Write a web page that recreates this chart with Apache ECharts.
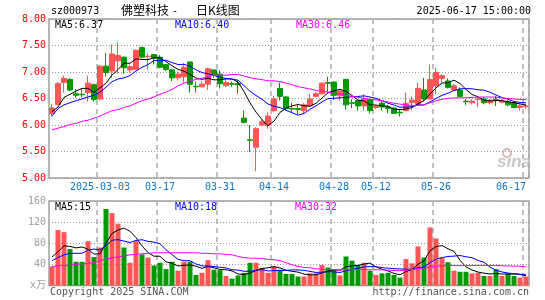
<!DOCTYPE html>
<html><head><meta charset="utf-8">
<script src="https://cdn.jsdelivr.net/npm/echarts/dist/echarts.min.js"></script>
<style>html,body{margin:0;padding:0;background:#fff}#c{width:545px;height:300px}</style>
</head><body><div id="c"></div>
<script>
const dates = [
'2025-02-19','2025-02-20','2025-02-21','2025-02-24','2025-02-25','2025-02-26','2025-02-27','2025-02-28',
'2025-03-03','2025-03-04','2025-03-05','2025-03-06','2025-03-07','2025-03-10','2025-03-11','2025-03-12','2025-03-13','2025-03-14',
'2025-03-17','2025-03-18','2025-03-19','2025-03-20','2025-03-21','2025-03-24','2025-03-25','2025-03-26','2025-03-27','2025-03-28',
'2025-03-31','2025-04-01','2025-04-02','2025-04-03','2025-04-07','2025-04-08','2025-04-09','2025-04-10','2025-04-11',
'2025-04-14','2025-04-15','2025-04-16','2025-04-17','2025-04-18','2025-04-21','2025-04-22','2025-04-23','2025-04-24','2025-04-25',
'2025-04-28','2025-04-29','2025-04-30','2025-05-06','2025-05-07','2025-05-08','2025-05-09',
'2025-05-12','2025-05-13','2025-05-14','2025-05-15','2025-05-16','2025-05-19','2025-05-20','2025-05-21','2025-05-22','2025-05-23',
'2025-05-26','2025-05-27','2025-05-28','2025-05-29','2025-05-30','2025-06-03','2025-06-04','2025-06-05','2025-06-06',
'2025-06-09','2025-06-10','2025-06-11','2025-06-12','2025-06-13','2025-06-16','2025-06-17'];

const opens  = [6.22,6.39,6.80,6.86,6.59,6.58,6.61,6.76,6.49,7.11,7.02,7.21,7.28,7.04,7.05,7.46,7.29,7.33,7.28,7.14,
                7.04,6.89,6.91,7.19,6.73,6.72,6.77,7.04,6.96,6.74,6.78,6.78,6.13,5.72,5.58,6.00,6.00,6.27,6.69,6.53,
                6.31,6.31,6.27,6.36,6.54,6.59,6.80,6.81,6.55,6.86,6.42,6.46,6.36,6.48,6.33,6.41,6.34,6.32,6.24,6.27,
                6.42,6.39,6.66,6.49,6.74,6.88,6.83,6.66,6.66,6.45,6.42,6.48,6.49,6.42,6.48,6.43,6.44,6.42,6.33,6.35];
const closes = [6.32,6.78,6.88,6.66,6.56,6.57,6.79,6.48,7.11,6.99,7.34,7.31,7.08,7.10,7.41,7.28,7.30,7.26,7.09,7.05,
                6.89,6.96,7.09,6.77,6.72,6.77,7.06,6.94,6.78,6.80,6.77,6.76,6.05,5.71,5.93,6.06,6.17,6.49,6.54,6.31,
                6.30,6.29,6.38,6.49,6.59,6.79,6.79,6.56,6.64,6.38,6.41,6.36,6.49,6.27,6.35,6.34,6.31,6.22,6.23,6.41,
                6.47,6.69,6.49,6.86,6.99,6.93,6.71,6.74,6.54,6.44,6.45,6.49,6.42,6.47,6.47,6.45,6.38,6.33,6.36,6.36];
const lows   = [6.16,6.37,6.61,6.64,6.52,6.52,6.44,6.44,6.46,6.91,6.89,6.97,6.97,6.99,7.04,7.26,7.05,7.14,7.07,7.02,
                6.83,6.84,6.80,6.61,6.61,6.71,6.66,6.89,6.69,6.72,6.72,6.59,6.03,5.49,5.13,5.99,5.93,6.24,6.46,6.27,
                6.24,6.21,6.22,6.34,6.52,6.58,6.61,6.47,6.46,6.29,6.32,6.27,6.27,6.22,6.30,6.27,6.22,6.21,6.16,6.26,
                6.28,6.38,6.46,6.48,6.58,6.80,6.69,6.64,6.52,6.38,6.39,6.34,6.39,6.39,6.36,6.41,6.36,6.32,6.27,6.30];
const highs  = [6.40,6.81,6.93,6.88,6.68,6.70,6.93,6.78,7.13,7.36,7.52,7.56,7.29,7.14,7.42,7.48,7.36,7.34,7.32,7.15,
                7.05,7.01,7.17,7.19,6.82,6.83,7.08,7.04,7.03,6.89,6.82,6.84,6.27,6.00,5.96,6.11,6.24,6.55,6.80,6.55,
                6.42,6.38,6.41,6.58,6.62,6.80,6.91,6.82,6.67,6.87,6.49,6.47,6.58,6.49,6.38,6.46,6.38,6.34,6.30,6.61,
                6.54,6.80,6.89,7.14,7.08,6.96,6.88,6.77,6.71,6.49,6.49,6.52,6.53,6.49,6.55,6.49,6.47,6.44,6.39,6.40];
const volumes = [36,105,101,69,45,45,84,54,72,145,137,117,72,43,84,59,53,38,43,31,
                 45,28,45,45,20,24,48,30,29,18,13,19,24,43,43,33,24,36,30,22,
                 22,17,17,23,23,39,34,30,19,55,47,39,43,28,20,23,24,20,15,50,
                 42,74,53,110,89,52,44,28,26,26,23,24,18,18,31,18,23,18,15,17];

const ma5Head  = [6.25,6.34,6.52,6.58];
const ma10Head = [6.17,6.31,6.38,6.42,6.46,6.49,6.53,6.56,6.62];
const ma30Head = [5.91,5.94,5.97,6.01,6.03,6.07,6.09,6.13,6.17,6.22,6.27,6.29,6.33,6.36,6.41,6.46,6.49,6.53,6.58,6.62,
                  6.67,6.74,6.79,6.83,6.86,6.88,6.91,6.94,6.94];
const vma5Head  = [54,64,75,74];
const vma10Head = [47,53,58,61,61,61,67,69,67];
const vma30Head = [36,37,38,38,40,41,42,43,47,50,52,54,56,58,59,60,61,62,62,62,62,62,62,62,62,61,61,60,60];

const tickDates  = ['2025-03-03','2025-03-17','2025-03-31','2025-04-14','2025-04-28','2025-05-12','2025-05-26','2025-06-17'];
const tickLabels = ['2025-03-03','03-17','03-31','04-14','04-28','05-12','05-26','06-17'];
const priceTicks = [5.00,5.50,6.00,6.50,7.00,7.50,8.00];
const volTicks   = [0,40,80,120,160];

const RED = '#ff5555', GREEN = '#009900', MONO = 'DejaVu Sans Mono, Noto Sans CJK SC';

function ma(arr, n, head) {
  return arr.map((_, i) => {
    if (i < head.length) return head[i];
    let s = 0; for (let j = i - n + 1; j <= i; j++) s += arr[j];
    return +(s / n).toFixed(3);
  });
}
const tickIdx = tickDates.map(d => dates.indexOf(d));
const isTick = (idx) => tickIdx.indexOf(idx) >= 0;

const chart = echarts.init(document.getElementById('c'), null, {renderer: 'canvas'});
const gridCommon = {left: 49, width: 480, show: true, borderColor: '#a0a0a0', borderWidth: 1.5, containLabel: false, outerBoundsMode: 'none'};
const vSplit = {show: true, interval: isTick, lineStyle: {color: '#aaa', width: 1.5, type: [5, 4]}};
const hSplit = {show: true, lineStyle: {color: '#999', width: 1, type: [1, 2]}};

const option = {
  animation: false,
  backgroundColor: '#fff',
  grid: [Object.assign({top: 19, height: 159}, gridCommon), Object.assign({top: 201, height: 84.5}, gridCommon)],
  xAxis: [
    {type: 'category', gridIndex: 0, data: dates, boundaryGap: true,
     axisLine: {show: false}, axisTick: {show: false}, splitLine: vSplit,
     axisLabel: {interval: isTick, margin: 4, color: '#0a78d2', fontFamily: MONO, fontSize: 10,
                 alignMaxLabel: 'right',
                 formatter: (v) => tickLabels[tickDates.indexOf(v)] || ''}},
    {type: 'category', gridIndex: 1, data: dates, boundaryGap: true,
     axisLine: {show: false}, axisTick: {show: false}, splitLine: vSplit, axisLabel: {show: false}}
  ],
  yAxis: [
    {type: 'value', gridIndex: 0, min: priceTicks[0], max: priceTicks[priceTicks.length - 1], interval: 0.5,
     axisLine: {show: false}, axisTick: {show: false}, splitLine: hSplit,
     axisLabel: {margin: 3, color: '#ff0000', fontFamily: MONO, fontSize: 10, formatter: (v) => v.toFixed(2)}},
    {type: 'value', gridIndex: 1, min: volTicks[0], max: volTicks[volTicks.length - 1], interval: 40,
     axisLine: {show: false}, axisTick: {show: false}, splitLine: hSplit,
     axisLabel: {margin: 3, color: '#a0a0a0', fontFamily: MONO, fontSize: 10,
                 formatter: (v) => v === 0 ? 'x万' : String(v)}}
  ],
  series: [
    {type: 'candlestick', xAxisIndex: 0, yAxisIndex: 0, barWidth: 5,
     data: dates.map((_, i) => [opens[i], closes[i], lows[i], highs[i]]),
     itemStyle: {color: RED, color0: GREEN, borderColor: RED, borderColor0: GREEN, borderWidth: 1}},
    {type: 'line', xAxisIndex: 0, yAxisIndex: 0, data: ma(closes, 5, ma5Head), symbol: 'none', z: 5,
     lineStyle: {color: '#000', width: 1}},
    {type: 'line', xAxisIndex: 0, yAxisIndex: 0, data: ma(closes, 10, ma10Head), symbol: 'none', z: 5,
     lineStyle: {color: '#0000ff', width: 1}},
    {type: 'line', xAxisIndex: 0, yAxisIndex: 0, data: ma(closes, 30, ma30Head), symbol: 'none', z: 5,
     lineStyle: {color: '#ff00ff', width: 1}},
    {type: 'bar', xAxisIndex: 1, yAxisIndex: 1, barWidth: 5,
     data: volumes.map((v, i) => ({value: v, itemStyle: {color: closes[i] >= opens[i] ? RED : GREEN}}))},
    {type: 'line', xAxisIndex: 1, yAxisIndex: 1, data: ma(volumes, 5, vma5Head), symbol: 'none', z: 5,
     lineStyle: {color: '#000', width: 1}},
    {type: 'line', xAxisIndex: 1, yAxisIndex: 1, data: ma(volumes, 10, vma10Head), symbol: 'none', z: 5,
     lineStyle: {color: '#0000ff', width: 1}},
    {type: 'line', xAxisIndex: 1, yAxisIndex: 1, data: ma(volumes, 30, vma30Head), symbol: 'none', z: 5,
     lineStyle: {color: '#ff00ff', width: 1}}
  ],
  graphic: [
    {type: 'text', left: 51, top: 6, style: {text: 'sz000973', font: '10px DejaVu Sans Mono', fill: '#000'}},
    {type: 'text', left: 121, top: 4, style: {text: '佛塑科技', font: '12px Noto Sans CJK SC', fill: '#000'}},
    {type: 'text', left: 172, top: 6, style: {text: '-', font: '10px DejaVu Sans Mono', fill: '#000'}},
    {type: 'text', left: 196, top: 4, style: {text: '日K线图', font: '12px Noto Sans CJK SC', fill: '#000'}},
    {type: 'text', right: 14, top: 6, style: {text: '2025-06-17 15:00:00', font: '10px DejaVu Sans Mono', fill: '#000'}},
    {type: 'text', left: 55, top: 20, z: 10, style: {text: 'MA5:6.37', font: '10px DejaVu Sans Mono', fill: '#000'}},
    {type: 'text', left: 175, top: 20, z: 10, style: {text: 'MA10:6.40', font: '10px DejaVu Sans Mono', fill: '#0000ff'}},
    {type: 'text', left: 296, top: 20, z: 10, style: {text: 'MA30:6.46', font: '10px DejaVu Sans Mono', fill: '#ff00ff'}},
    {type: 'text', left: 55, top: 202, z: 10, style: {text: 'MA5:15', font: '10px DejaVu Sans Mono', fill: '#000'}},
    {type: 'text', left: 175, top: 202, z: 10, style: {text: 'MA10:18', font: '10px DejaVu Sans Mono', fill: '#0000ff'}},
    {type: 'text', left: 295, top: 202, z: 10, style: {text: 'MA30:32', font: '10px DejaVu Sans Mono', fill: '#ff00ff'}},
    {type: 'text', left: 50, top: 287, style: {text: 'Copyright 2025 SINA.COM', font: '10px DejaVu Sans Mono', fill: '#555'}},
    {type: 'text', right: 16, top: 287, style: {text: 'http://finance.sina.com.cn', font: '10px DejaVu Sans Mono', fill: '#555'}},
    {type: 'circle', shape: {cx: 507, cy: 153, r: 4}, style: {fill: 'none', stroke: '#e0b8b8', lineWidth: 2}, z: 0},
    {type: 'text', left: 497, top: 154, z: 0, style: {text: 'sina', font: 'italic bold 17px Liberation Sans', fill: '#c8c8c8'}}
  ]
};
chart.setOption(option);
</script></body></html>
